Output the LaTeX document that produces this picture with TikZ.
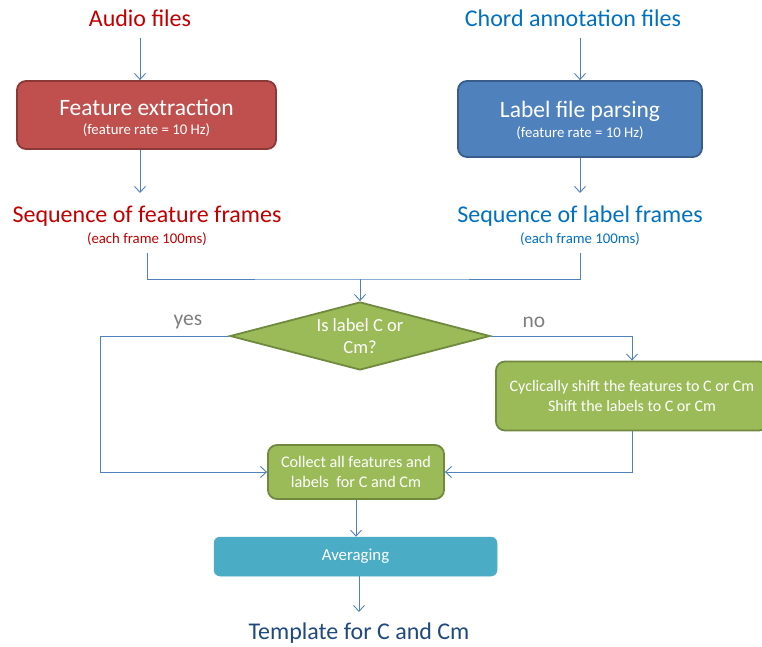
\documentclass[tikz,border=0pt]{standalone}
\usepackage{fontspec}
\setmainfont{Carlito}
\usetikzlibrary{shapes.geometric,arrows.meta}
\definecolor{redtxt}{HTML}{C00000}
\definecolor{bluetxt}{HTML}{0070C0}
\definecolor{navytxt}{HTML}{1F497D}
\definecolor{linec}{HTML}{4F81BD}
\definecolor{redfill}{HTML}{C0504D}
\definecolor{redborder}{HTML}{8C3836}
\definecolor{bluefill}{HTML}{4F81BD}
\definecolor{blueborder}{HTML}{385D8A}
\definecolor{greenfill}{HTML}{9BBB59}
\definecolor{greenborder}{HTML}{71893F}
\definecolor{tealfill}{HTML}{4BACC6}
\definecolor{graytxt}{HTML}{7F7F7F}
\newcommand{\fsz}[1]{\fontsize{#1}{1.2\dimexpr#1pt\relax}\selectfont}
\tikzset{
  arr/.style={draw=linec, line width=0.9pt, -{Straight Barb[length=6pt,width=11pt]}},
  conn/.style={draw=linec, line width=0.9pt},
  box/.style={rectangle, rounded corners=9pt, line width=1.8pt, text=white, align=center, inner sep=0pt},
  bigtxt/.style={font=\fsz{24}, inner sep=0pt},
  smalltxt/.style={font=\fsz{14.8}, inner sep=0pt},
}
\begin{document}
\begin{tikzpicture}[x=1pt,y=-1pt]
\useasboundingbox (0,0) rectangle (762,647);
% top texts
\node[bigtxt, text=redtxt] (audio) at (140,18) {Audio files};
\node[bigtxt, text=bluetxt] (chord) at (573,18) {Chord annotation files};
% process boxes
\node[box, fill=redfill, draw=redborder, minimum width=259pt, minimum height=68pt] (feat) at (146.5,115) {};
\node[font=\fsz{23.5}, text=white, inner sep=0pt] (featt) at (146.5,107) {Feature extraction};
\node[smalltxt, text=white] (featsub) at (146.5,130) {(feature rate = 10 Hz)};
\node[box, fill=bluefill, draw=blueborder, minimum width=244pt, minimum height=76pt] (lab) at (580,119) {};
\node[font=\fsz{23.5}, text=white, inner sep=0pt] (labt) at (580,111) {Label file parsing};
\node[smalltxt, text=white] (labsub) at (580,133) {(feature rate = 10 Hz)};
% sequences
\node[bigtxt, text=redtxt] (seqf) at (147,216) {Sequence of feature frames};
\node[smalltxt, text=redtxt] (seqfsub) at (147,239) {(each frame 100ms)};
\node[bigtxt, text=bluetxt] (seql) at (580,216) {Sequence of label frames};
\node[smalltxt, text=bluetxt] (seqlsub) at (580,239) {(each frame 100ms)};
% decision
\node[diamond, fill=greenfill, draw=greenborder, line width=1.8pt, minimum width=260pt, minimum height=68pt, aspect=3.8, inner sep=0pt] (dia) at (360,336) {};
\node[font=\fsz{18.5}, text=white, align=center, inner sep=0pt] (diat) at (360,336) {Is label C or\\Cm?};
% shift box
\node[box, fill=greenfill, draw=greenborder, minimum width=272pt, minimum height=69pt, font=\fsz{16}] (shift) at (632,396) {Cyclically shift the features to C or Cm\\Shift the labels to C or Cm};
% collect
\node[box, fill=greenfill, draw=greenborder, minimum width=176pt, minimum height=54pt, font=\fsz{16.2}] (coll) at (356,472) {Collect all features and\\labels\ \ for C and Cm};
% averaging
\node[box, fill=tealfill, draw=tealfill, line width=0.5pt, rounded corners=6pt, minimum width=283pt, minimum height=39pt, font=\fsz{16.8}] (avg) at (355.5,556.5) {Averaging};
% result
\node[bigtxt, text=navytxt] (tmpl) at (359,633) {Template for C and Cm};
% labels
\node[font=\fsz{21.5}, text=graytxt, inner sep=0pt] (yes) at (188,322) {yes};
\node[font=\fsz{21.5}, text=graytxt, inner sep=0pt] (no) at (534,322) {no};
\coordinate (m) at (360,279);
% connectors
\draw[arr] (audio.south |- 0,38) -- (audio.south |- feat.north);
\draw[arr] (audio.south |- feat.south) -- (audio.south |- 0,193);
\draw[arr] (lab.north |- 0,38) -- (lab.north);
\draw[arr] (lab.south) -- (lab.south |- 0,193);
\draw[conn] (seqfsub.south |- 0,253) |- (m) -| (seqlsub.south |- 0,253);
\draw[arr] (m) -- (dia.north);
\draw[arr] (dia.west) -- ++(-129,0) |- (coll.west);
\draw[arr] (dia.east) -| (shift.north);
\draw[arr] (shift.south) |- (coll.east);
\draw[arr] (coll.south) -- (coll.south |- avg.north);
\draw[arr] (tmpl.north |- avg.south) -- (tmpl.north |- 0,612);
\end{tikzpicture}
\end{document}
